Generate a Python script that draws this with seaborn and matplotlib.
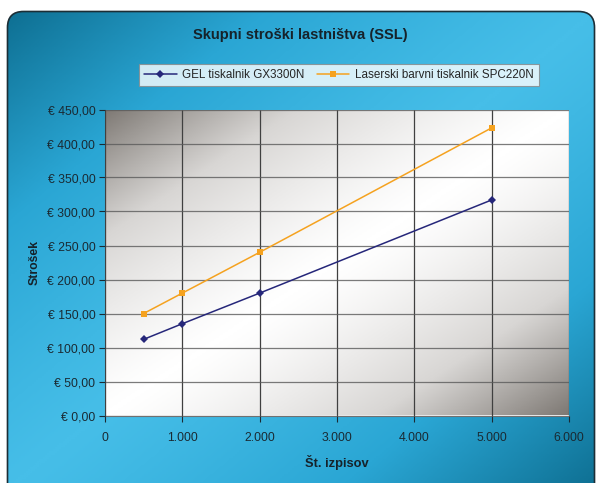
import matplotlib
matplotlib.use("Agg")
import matplotlib.pyplot as plt
import seaborn as sns
import pandas as pd
import numpy as np
from matplotlib.patches import FancyBboxPatch
from matplotlib.colors import LinearSegmentedColormap
from matplotlib.ticker import FuncFormatter, MultipleLocator

# Data
prints = [500, 1000, 2000, 5000]
gel_cost = [112, 135, 180, 317]
laser_cost = [150, 180, 240, 423]
series_names = ["GEL tiskalnik GX3300N", "Laserski barvni tiskalnik SPC220N"]

df = pd.DataFrame({
    "prints": prints * 2,
    "cost": gel_cost + laser_cost,
    "series": [series_names[0]] * len(prints) + [series_names[1]] * len(prints),
})

sns.set_style("white")
plt.rcParams["font.family"] = ["Liberation Sans", "DejaVu Sans"]

fig = plt.figure(figsize=(5.97, 4.83), dpi=100)
fig.patch.set_facecolor("white")

# Blue gradient background with rounded border
bg = fig.add_axes([0, 0, 1, 1])
bg.set_xlim(0, 597)
bg.set_ylim(483, 0)
bg.axis("off")
xx, yy = np.meshgrid(np.linspace(0, 1, 300), np.linspace(0, 1, 240))
u = np.abs(xx + yy - 1.0)
blue_cmap = LinearSegmentedColormap.from_list("bl", ["#46bee8", "#2aa6d4", "#0e6f92"])
img = bg.imshow(u ** 1.2, cmap=blue_cmap, extent=[7, 596, 490, 11], aspect="auto",
                vmin=0, vmax=1)
frame = FancyBboxPatch((7.5, 11.5), 587, 490, boxstyle="round,pad=0,rounding_size=16",
                       facecolor="none", edgecolor="#1c2e36", linewidth=1.2,
                       transform=bg.transData)
bg.add_patch(frame)
img.set_clip_path(frame)

# Plot area
ax = fig.add_axes([105 / 597, 67.5 / 483, 464 / 597, 306 / 483])
px, py = np.meshgrid(np.linspace(0, 1, 300), np.linspace(0, 1, 200))
pu = np.abs(px + py - 1.0)
grey_cmap = LinearSegmentedColormap.from_list("gr", ["#ffffff", "#d8d6d4", "#7e7974"])
ax.imshow(pu ** 1.3, cmap=grey_cmap, extent=[0, 6000, 0, 450], aspect="auto",
          vmin=0, vmax=1, zorder=0)

ax.xaxis.set_major_locator(MultipleLocator(1000))
ax.yaxis.set_major_locator(MultipleLocator(50))
ax.grid(axis="x", color="#404040", linewidth=0.9, zorder=1)
ax.grid(axis="y", color="#5a5a5a", linewidth=0.9, alpha=0.8, zorder=1)
ax.set_axisbelow(False)

sns.lineplot(data=df, x="prints", y="cost", hue="series", style="series",
             palette=["#26277a", "#f5a21f"], markers=["D", "s"], dashes=False,
             markersize=4.5, linewidth=1.1, markeredgewidth=0, ax=ax, zorder=3)

ax.set_xlim(0, 6000)
ax.set_ylim(0, 450)

ax.xaxis.set_major_formatter(FuncFormatter(lambda v, p: f"{int(v):,}".replace(",", ".")))
ax.yaxis.set_major_formatter(FuncFormatter(lambda v, p: f"€ {v:,.2f}".replace(".", ",")))
ax.tick_params(axis="both", labelsize=8.8, colors="#1a2a33", length=4, width=0.8,
               direction="out", left=True, bottom=True)
ax.tick_params(axis="y", pad=3)
ax.tick_params(axis="x", pad=8)
for lbl in ax.get_xticklabels() + ax.get_yticklabels():
    lbl.set_color("#1a2a33")

for side in ["top", "right"]:
    ax.spines[side].set_visible(False)
ax.spines["left"].set_color("#707070")
ax.spines["bottom"].set_color("#707070")

ax.set_xlabel("Št. izpisov", fontsize=9.3, fontweight="bold", color="#16222a", labelpad=8)
ax.set_ylabel("Strošek", fontsize=8.8, fontweight="bold", color="#16222a", labelpad=5)

leg = ax.legend(title=None, loc="center", bbox_to_anchor=(0.504, 1.112), ncol=2,
                fontsize=8.4, frameon=True, fancybox=False, edgecolor="#888888",
                borderpad=0.45, handlelength=2.8, columnspacing=1.0, handletextpad=0.5)
leg.get_frame().set_facecolor("white")
leg.get_frame().set_linewidth(0.8)

fig.text(300 / 597, 1 - 35 / 483, "Skupni stroški lastništva (SSL)", ha="center",
         va="center", fontsize=10.5, fontweight="bold", color="#16222a")

fig.savefig("out.png", dpi=100)
